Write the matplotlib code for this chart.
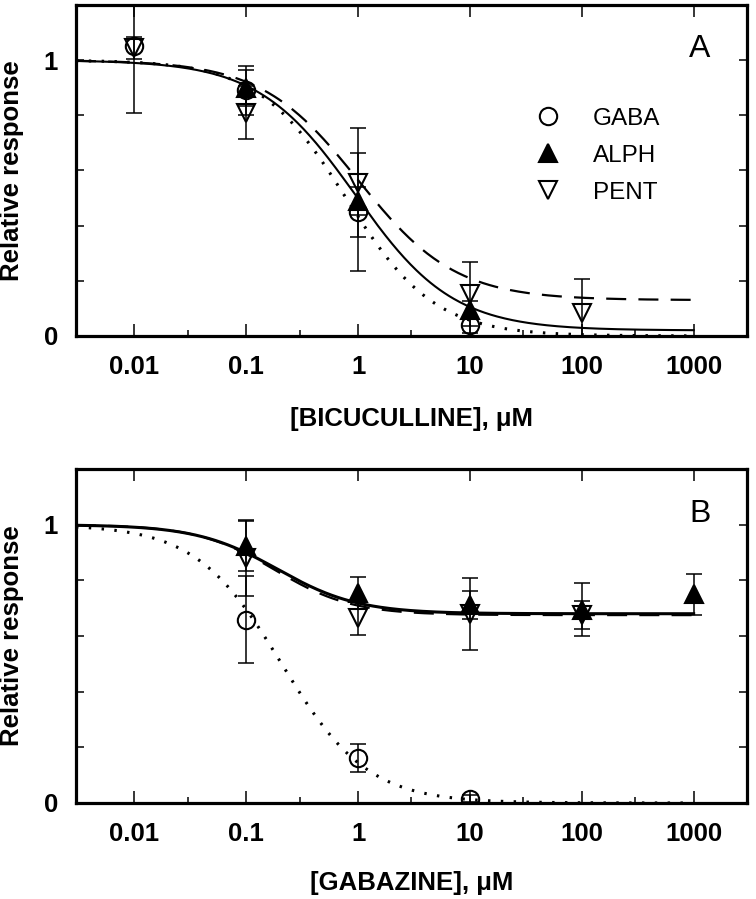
import numpy as np
import matplotlib
matplotlib.use("Agg")
from matplotlib import pyplot as plt
from matplotlib.lines import Line2D
from matplotlib.ticker import FixedLocator, FixedFormatter

plt.rcParams['font.family'] = ['Liberation Sans', 'DejaVu Sans']
plt.rcParams['font.weight'] = 'bold'

# ---- panel A : bicuculline ----
a_gaba_x = [0.01, 0.1, 1, 10]
a_gaba_y = [1.05, 0.89, 0.45, 0.04]
a_gaba_e = [0.24, 0.09, 0.215, 0.03]

a_alph_x = [0.1, 1, 10]
a_alph_y = [0.90, 0.49, 0.095]
a_alph_e = [0.065, 0.05, 0.03]

a_pent_x = [0.01, 0.1, 1, 10, 100]
a_pent_y = [1.045, 0.81, 0.555, 0.152, 0.085]
a_pent_e = [0.04, 0.095, 0.198, 0.116, 0.122]

# fitted Hill curves: top, bottom, IC50, slope
a_gaba_fit = [1.0, 0.0, 0.78, 1.1]
a_alph_fit = [1.0, 0.02, 0.95, 1.0]
a_pent_fit = [1.0, 0.13, 1.0, 1.0]

# ---- panel B : gabazine ----
b_gaba_x = [0.1, 1, 10]
b_gaba_y = [0.658, 0.161, 0.015]
b_gaba_e = [0.156, 0.05, 0.012]

b_alph_x = [0.1, 1, 10, 100, 1000]
b_alph_y = [0.922, 0.754, 0.712, 0.695, 0.75]
b_alph_e = [0.09, 0.058, 0.05, 0.095, 0.073]

b_pent_x = [0.1, 1, 10, 100]
b_pent_y = [0.88, 0.664, 0.68, 0.675]
b_pent_e = [0.135, 0.06, 0.13, 0.05]

b_gaba_fit = [1.0, 0.0, 0.207, 1.13]
b_alph_fit = [1.0, 0.68, 0.19, 1.2]
b_pent_fit = [1.0, 0.675, 0.18, 1.25]

xticks = [0.01, 0.1, 1, 10, 100, 1000]
xticklabels = ['0.01', '0.1', '1', '10', '100', '1000']
xminor = [0.03, 0.3, 3, 30, 300]
yticks = [0, 0.2, 0.4, 0.6, 0.8, 1.0]
yticklabels = ['0', '', '', '', '', '1']


def hill(x, p):
    top, bot, ic50, n = p
    return bot + (top - bot) / (1 + (x / ic50) ** n)


def setup(ax, xlabel, letter, xlab_y):
    ax.set_xscale('log')
    ax.set_xlim(0.003, 3000)
    ax.set_ylim(0, 1.2)
    ax.xaxis.set_major_locator(FixedLocator(xticks))
    ax.xaxis.set_major_formatter(FixedFormatter(xticklabels))
    ax.xaxis.set_minor_locator(FixedLocator(xminor))
    ax.xaxis.set_minor_formatter(FixedFormatter([''] * len(xminor)))
    ax.yaxis.set_major_locator(FixedLocator(yticks))
    ax.yaxis.set_major_formatter(FixedFormatter(yticklabels))
    ax.tick_params(axis='x', which='major', direction='in', length=8.5, width=1.1,
                   top=True, bottom=True, labelsize=18.5, pad=14)
    ax.tick_params(axis='x', which='minor', direction='in', length=4.5, width=1.1,
                   top=False, bottom=True)
    ax.tick_params(axis='y', which='major', direction='in', length=5.5, width=1.1,
                   left=True, right=True, labelsize=18.5, pad=13)
    for s in ax.spines.values():
        s.set_linewidth(2.3)
    ax.set_ylabel('Relative response', fontsize=18.5, fontweight='bold')
    ax.yaxis.set_label_coords(-0.078, 0.5)
    ax.set_xlabel(xlabel, fontsize=18.5, fontweight='bold')
    ax.xaxis.set_label_coords(0.5, xlab_y)
    ax.text(0.93, 1.04 / 1.2, letter, transform=ax.transAxes,
            fontsize=23, fontweight='normal', ha='center', va='center')


def points(ax, x, y, e, marker, face, ms):
    ax.errorbar(x, y, yerr=e, fmt='none', ecolor='black', elinewidth=1.1,
                capsize=5.5, capthick=1.1, zorder=2)
    ax.plot(x, y, linestyle='none', marker=marker, markersize=ms,
            markerfacecolor=face, markeredgecolor='black', markeredgewidth=1.5, zorder=4)


xs = np.logspace(np.log10(0.003), 3, 400)

fig = plt.figure(figsize=(7.56, 8.99), dpi=100)
axA = fig.add_axes([0.1005, 0.6263, 0.8876, 0.3682])
axB = fig.add_axes([0.1005, 0.1068, 0.8876, 0.3715])

# panel A
setup(axA, '[BICUCULLINE], \u03bcM', 'A', -0.215)
axA.plot(xs, hill(xs, a_alph_fit), color='black', lw=1.5, zorder=3)
axA.plot(xs, hill(xs, a_gaba_fit), color='black', lw=2.2, dashes=(0.8, 3.4), zorder=3)
axA.plot(xs, hill(xs, a_pent_fit), color='black', lw=1.6, dashes=(9, 5.5), zorder=3)
points(axA, a_gaba_x, a_gaba_y, a_gaba_e, 'o', 'none', 12.5)
points(axA, a_alph_x, a_alph_y, a_alph_e, '^', 'black', 13)
points(axA, a_pent_x, a_pent_y, a_pent_e, 'v', 'none', 13)

handles = [Line2D([], [], linestyle='none', marker='o', markersize=12.5, markerfacecolor='none',
                  markeredgecolor='black', markeredgewidth=1.5),
           Line2D([], [], linestyle='none', marker='^', markersize=13, markerfacecolor='black',
                  markeredgecolor='black', markeredgewidth=1.5),
           Line2D([], [], linestyle='none', marker='v', markersize=13, markerfacecolor='none',
                  markeredgecolor='black', markeredgewidth=1.5)]
axA.legend(handles, ['GABA', 'ALPH', 'PENT'], loc='upper left', bbox_to_anchor=(0.685, 0.69),
           frameon=False, borderpad=0, borderaxespad=0, handlelength=1.0, handletextpad=1.35,
           labelspacing=0.62, prop={'size': 17.5, 'weight': 'normal'})

# panel B
setup(axB, '[GABAZINE], \u03bcM', 'B', -0.205)
axB.plot(xs, hill(xs, b_alph_fit), color='black', lw=2.2, zorder=3)
axB.plot(xs, hill(xs, b_pent_fit), color='black', lw=1.6, dashes=(9, 5.5), zorder=3)
axB.plot(xs, hill(xs, b_gaba_fit), color='black', lw=2.2, dashes=(0.8, 3.4), zorder=3)
points(axB, b_gaba_x, b_gaba_y, b_gaba_e, 'o', 'none', 12.5)
points(axB, b_alph_x, b_alph_y, b_alph_e, '^', 'black', 13)
points(axB, b_pent_x, b_pent_y, b_pent_e, 'v', 'none', 13)

fig.savefig('out.png', dpi=100)
